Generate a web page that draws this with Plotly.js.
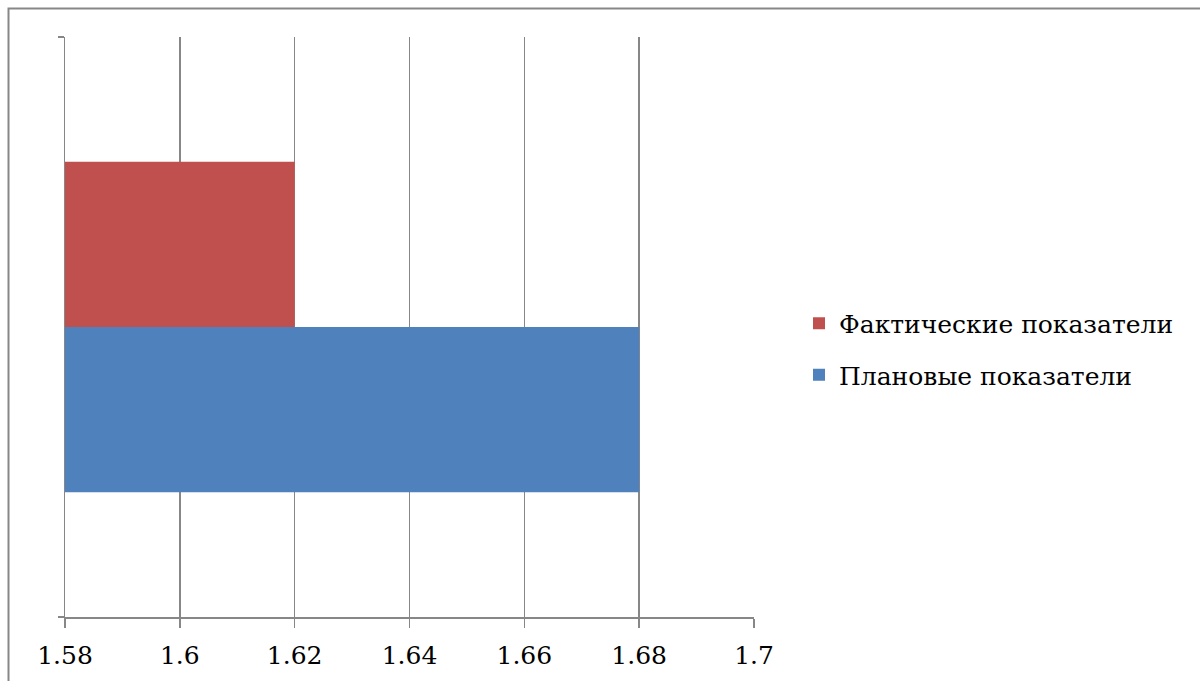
<!DOCTYPE html>
<html>
<head>
<meta charset="utf-8">
<script src="https://cdn.plot.ly/plotly-3.0.1.min.js"></script>
<style>html,body{margin:0;padding:0;background:#fff;}#chart{width:1200px;height:681px;}</style>
</head>
<body>
<div id="chart"></div>
<script>
const category = ["Показатель"];
const seriesNames = ["Плановые показатели", "Фактические показатели"];
const planValues = [1.68];
const factValues = [1.62];
const xTickValues = [1.58, 1.6, 1.62, 1.64, 1.66, 1.68, 1.7];
const xTickLabels = ["1.58", "1.6", "1.62", "1.64", "1.66", "1.68", "1.7"];

const FONT = "DejaVu Serif";
const L = 65, R = 754, T = 37, B = 617;
const pw = R - L, ph = B - T;
const px = v => (v - L) / pw;
const py = v => (B - v) / ph;

const traces = [
  {type: "bar", orientation: "h", name: seriesNames[0], y: category, x: planValues,
   legendgroup: "plan", legendrank: 2, marker: {color: "#4F81BD"}, hoverinfo: "x+name"},
  {type: "bar", orientation: "h", name: seriesNames[1], y: category, x: factValues,
   legendgroup: "fact", legendrank: 1, marker: {color: "#C0504D"}, hoverinfo: "x+name"}
];

const layout = {
  width: 1200, height: 681,
  margin: {l: L, r: 1200 - R, t: T, b: 681 - B, pad: 0},
  paper_bgcolor: "#fff", plot_bgcolor: "#fff",
  barmode: "group", bargap: 0.43, bargroupgap: 0,
  font: {family: FONT, color: "#000"},
  xaxis: {
    range: [1.58, 1.7], tickvals: xTickValues, ticktext: xTickLabels,
    showgrid: true, gridcolor: "#878787", gridwidth: 1.5,
    showline: true, linecolor: "#878787", linewidth: 1.5,
    ticks: "outside", ticklen: 9, tickwidth: 1.5, tickcolor: "#878787",
    ticklabelstandoff: 6,
    tickfont: {size: 25, family: FONT, color: "#000"},
    zeroline: false, fixedrange: true
  },
  yaxis: {
    type: "category", tickson: "boundaries", showticklabels: false,
    showline: true, linecolor: "#878787", linewidth: 1.5,
    ticks: "outside", ticklen: 6, tickwidth: 1.5, tickcolor: "#878787",
    showgrid: false, zeroline: false, fixedrange: true
  },
  legend: {
    x: px(799), y: py(349), xanchor: "left", yanchor: "middle",
    traceorder: "grouped", itemwidth: 30,
    font: {size: 25, family: FONT, color: "#000"},
    tracegroupgap: 16, bgcolor: "rgba(0,0,0,0)"
  },
  shapes: [
    {type: "rect", xref: "paper", yref: "paper",
     x0: px(8.5), x1: px(1210), y0: py(700), y1: py(8.5),
     line: {color: "#878787", width: 2}, fillcolor: "rgba(0,0,0,0)", layer: "below"}
  ],
  showlegend: true
};

Plotly.newPlot("chart", traces, layout, {displayModeBar: false, staticPlot: true});
</script>
</body>
</html>
